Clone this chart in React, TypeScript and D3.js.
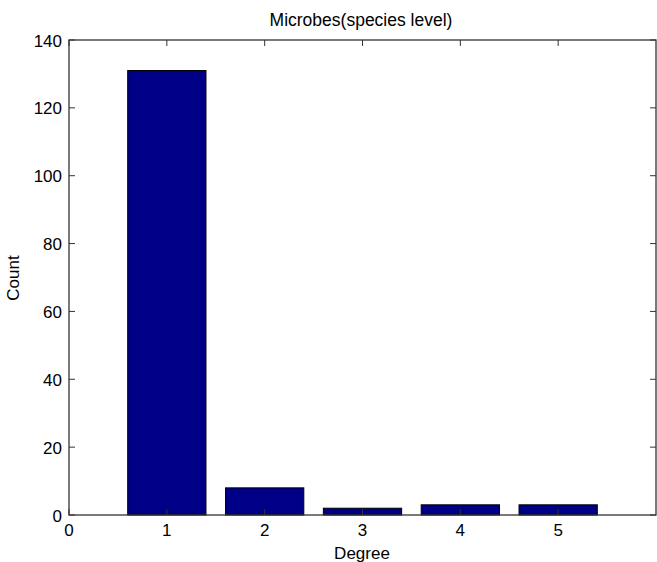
import React from "react";
import * as d3 from "d3";

const categories = [1, 2, 3, 4, 5];
const counts = [131, 8, 2, 3, 3];
const xTicks = [0, 1, 2, 3, 4, 5];
const yTicks = [0, 20, 40, 60, 80, 100, 120, 140];
const title = "Microbes(species level)";
const xLabel = "Degree";
const yLabel = "Count";

export default function App() {
  const W = 657, H = 562;
  const left = 69, right = 656, top = 40, bottom = 515;
  const x = d3.scaleLinear().domain([0, 6]).range([left, right]);
  const y = d3.scaleLinear().domain([0, 140]).range([bottom, top]);
  const bw = (x(1) - x(0)) * 0.8;
  const font = "'Liberation Sans', Arial, Helvetica, sans-serif";
  const axisColor = "#333";
  const tl = 6;
  return (
    <div style={{ position: "absolute", left: 0, top: 0 }}>
      <svg width={W} height={H} style={{ display: "block", background: "#fff" }}>
        {categories.map((c, i) => (
          <rect
            key={c}
            x={x(c) - bw / 2}
            y={y(counts[i])}
            width={bw}
            height={y(0) - y(counts[i])}
            fill="#000087"
            stroke="#000"
            strokeWidth={1}
          />
        ))}
        <rect x={left} y={top} width={right - left} height={bottom - top} fill="none" stroke={axisColor} strokeWidth={1.3} />
        {xTicks.map((t) => (
          <g key={"x" + t}>
            <line x1={x(t)} x2={x(t)} y1={bottom} y2={bottom - tl} stroke={axisColor} />
            <line x1={x(t)} x2={x(t)} y1={top} y2={top + tl} stroke={axisColor} />
            <text x={x(t)} y={536} textAnchor="middle" fontFamily={font} fontSize={17} fill="#000">{t}</text>
          </g>
        ))}
        {yTicks.map((t) => (
          <g key={"y" + t}>
            <line x1={left} x2={left + tl} y1={y(t)} y2={y(t)} stroke={axisColor} />
            <line x1={right} x2={right - tl} y1={y(t)} y2={y(t)} stroke={axisColor} />
            <text x={62} y={y(t) + 6.5} textAnchor="end" fontFamily={font} fontSize={17} fill="#000">{t}</text>
          </g>
        ))}
        <text x={361} y={26} textAnchor="middle" fontFamily={font} fontSize={17.5} fill="#000">{title}</text>
        <text x={362} y={559} textAnchor="middle" fontFamily={font} fontSize={17} fill="#000">{xLabel}</text>
        <text transform={`translate(19,278) rotate(-90)`} textAnchor="middle" fontFamily={font} fontSize={17} fill="#000">{yLabel}</text>
      </svg>
    </div>
  );
}
